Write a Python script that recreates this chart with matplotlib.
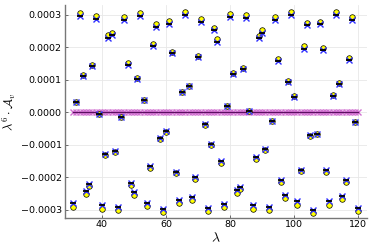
import numpy as np
import matplotlib
matplotlib.use("Agg")
import matplotlib.pyplot as plt
from matplotlib.ticker import FuncFormatter

# lambda values (integer grid)
lam = list(range(31, 121))

# lambda^6 * A_v, in units of 1e-4 -- yellow circles
a_ref = [
    -2.90, 0.32, 3.04, 1.15, -2.51, -2.28, 1.46, 2.97, -0.04, -2.96,
    -1.31, 2.37, 2.44, -1.23, -3.00, -0.14, 2.94, 1.51, -2.25, -2.54,
    1.04, 3.04, 0.38, -2.88, -1.70, 2.11, 2.71, -0.81, -3.07, -0.59,
    2.82, 1.86, -1.88, -2.78, 0.63, 3.07, 0.82, -2.70, -2.05, 1.74,
    2.87, -0.38, -3.04, -1.00, 2.60, 2.24, -1.55, -2.91, 0.20, 3.02,
    1.22, -2.47, -2.37, 1.37, 2.99, 0.04, -2.96, -1.43, 2.35, 2.53,
    -1.16, -3.01, -0.26, 2.94, 1.64, -2.15, -2.63, 0.96, 3.07, 0.49,
    -2.84, -1.81, 2.03, 2.76, -0.73, -3.09, -0.68, 2.79, 1.99, -1.83,
    -2.84, 0.52, 3.07, 0.91, -2.67, -2.14, 1.67, 2.92, -0.30, -3.04,
]

# blue crosses (with tiny error bars)
a_num = [
    -2.79, 0.31, 2.95, 1.11, -2.43, -2.21, 1.42, 2.88, -0.04, -2.86,
    -1.28, 2.30, 2.37, -1.20, -2.90, -0.14, 2.85, 1.47, -2.18, -2.46,
    1.01, 2.95, 0.37, -2.78, -1.65, 2.04, 2.62, -0.79, -2.97, -0.57,
    2.73, 1.81, -1.83, -2.69, 0.61, 2.98, 0.80, -2.61, -1.98, 1.69,
    2.78, -0.37, -2.94, -0.97, 2.52, 2.17, -1.50, -2.81, 0.20, 2.93,
    1.19, -2.39, -2.29, 1.34, 2.90, 0.04, -2.86, -1.38, 2.28, 2.45,
    -1.13, -2.91, -0.26, 2.85, 1.59, -2.08, -2.55, 0.93, 2.98, 0.47,
    -2.74, -1.76, 1.96, 2.67, -0.71, -2.99, -0.66, 2.70, 1.92, -1.78,
    -2.74, 0.50, 2.98, 0.88, -2.58, -2.07, 1.62, 2.83, -0.29, -2.94,
]

# residual series, essentially zero at this scale
a_diff = [0.0] * len(lam)

yticks = [-3e-4, -2e-4, -1e-4, 0.0, 1e-4, 2e-4, 3e-4]
xticks = [40, 60, 80, 100, 120]

plt.rcParams["mathtext.fontset"] = "cm"

fig = plt.figure(figsize=(3.74, 2.49), dpi=100)
ax = fig.add_axes([0.1727, 0.1257, 0.8083, 0.8543])

scale = 1e-4
ref = np.array(a_ref) * scale
num = np.array(a_num) * scale
diff = np.array(a_diff) * scale

ax.plot(lam, diff, color="#d070d0", lw=0, marker="x", ms=4.5, mew=1.0, zorder=2)
ax.plot(lam, diff, color="#5a1060", lw=0.8, zorder=2)
ax.plot(lam, ref, ls="none", marker="o", ms=4.0, mfc="#ffff00", mec="black",
        mew=0.5, zorder=3)
ax.plot(lam, num, ls="none", marker="x", ms=4.3, mew=1.0, color="#3030ff", zorder=4)
ax.plot(lam, num, ls="none", marker="_", ms=4.3, mew=1.3, color="black", zorder=5)

ax.set_xlim(28.33, 122.67)
ax.set_ylim(-3.24e-4, 3.30e-4)
ax.set_xticks(xticks)
ax.set_yticks(yticks)
ax.yaxis.set_major_formatter(FuncFormatter(lambda v, p: f"{v:.4f}".replace("-", "\u2212")))
ax.tick_params(direction="in", length=2.5, width=0.6, color="#555555",
               labelsize=6.8, pad=2)

ax.grid(True, color="#e8e8e8", lw=0.6, zorder=0)
ax.set_axisbelow(True)
for s in ["top", "right"]:
    ax.spines[s].set_visible(False)
for s in ["left", "bottom"]:
    ax.spines[s].set_color("#777777")
    ax.spines[s].set_linewidth(1.0)

ax.set_xlabel(r"$\lambda$", fontsize=10, labelpad=1)
ax.set_ylabel(r"$\lambda^6\cdot\mathcal{A}_v$", fontsize=9, labelpad=2)

fig.savefig("out.png", dpi=100)
